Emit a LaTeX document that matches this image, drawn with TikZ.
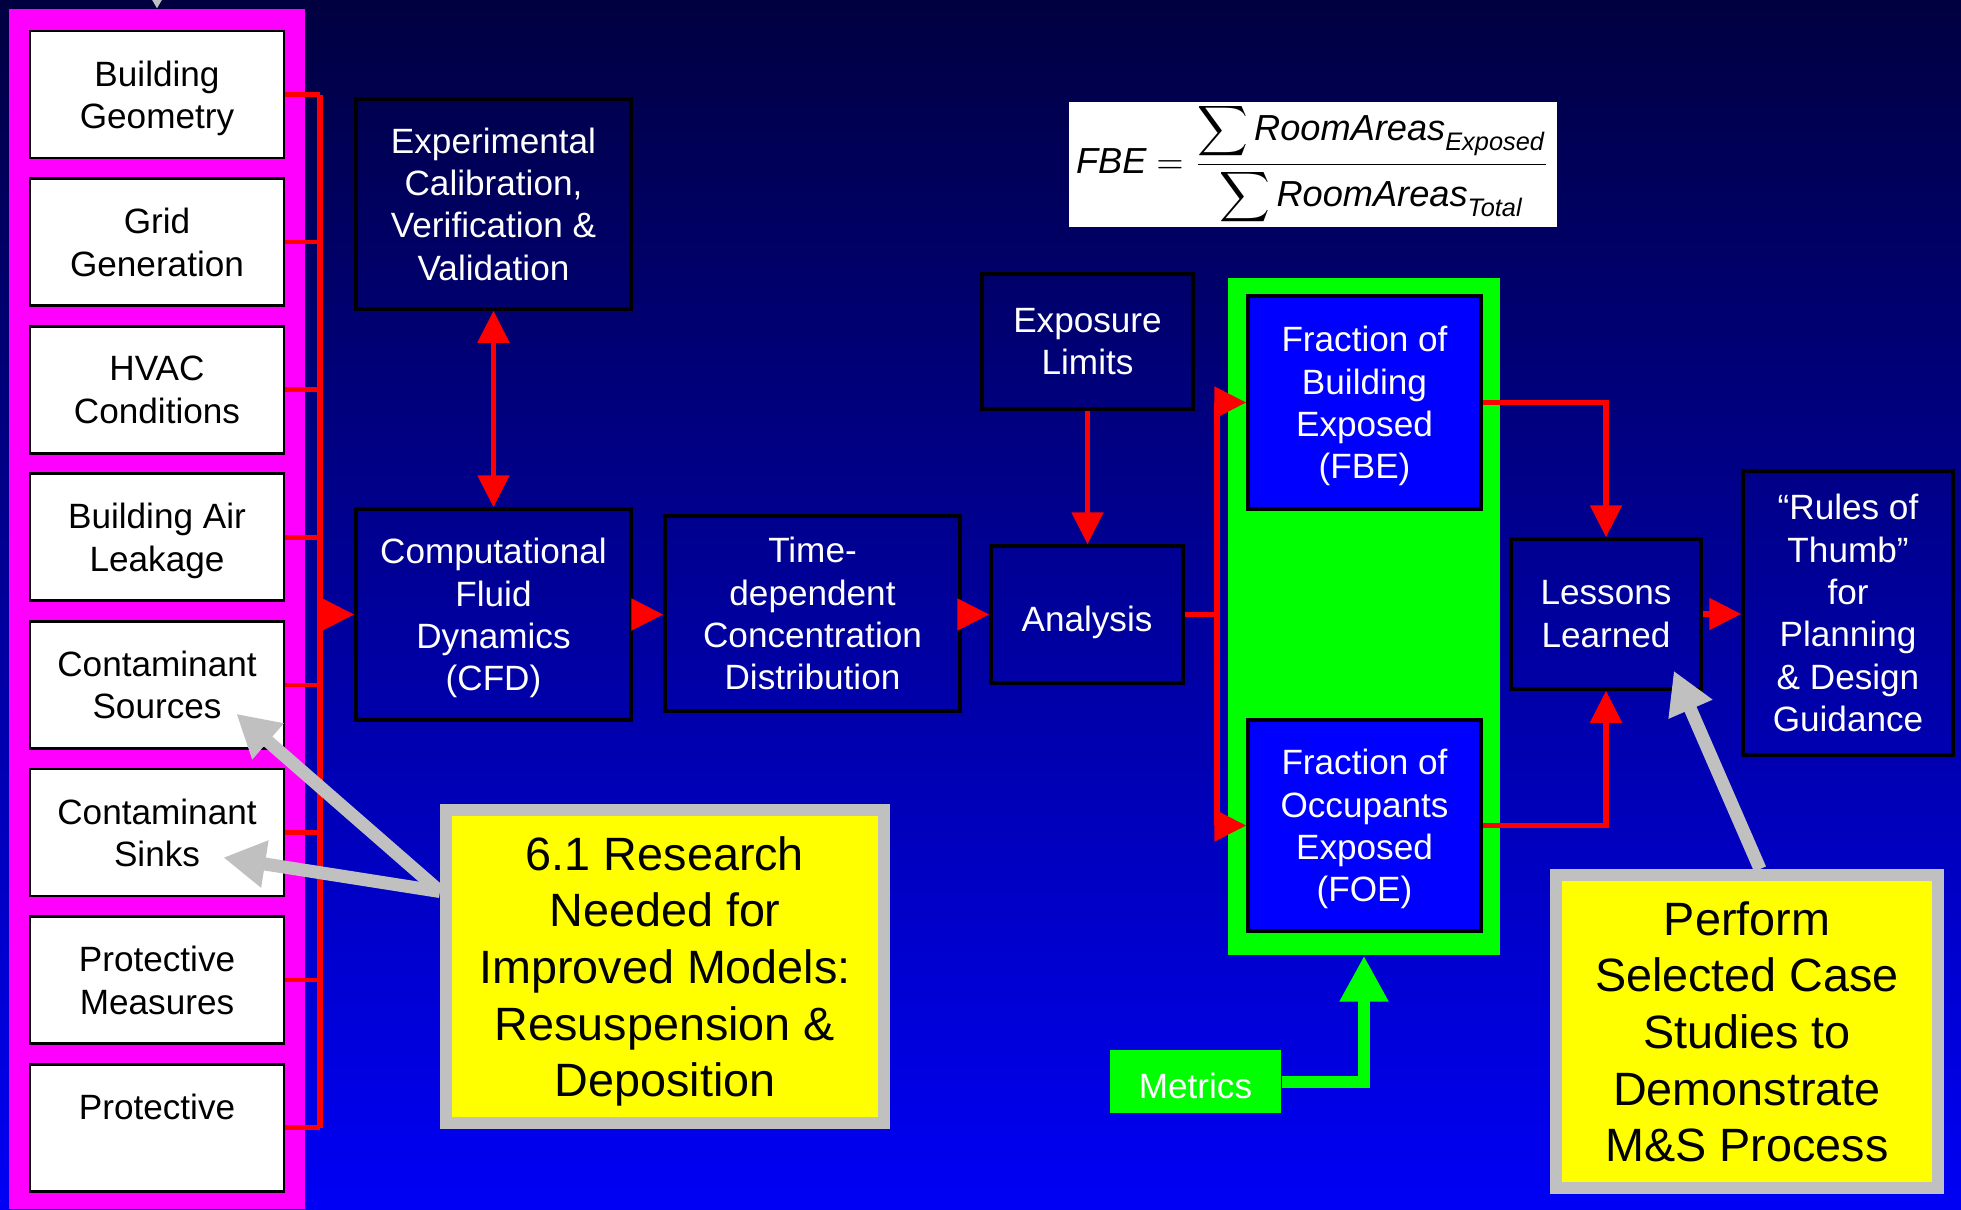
\documentclass[tikz,border=0pt]{standalone}
\usepackage{amsmath}
\usepackage{fontspec}
\setmainfont{Liberation Sans}
\usetikzlibrary{arrows.meta}
\definecolor{bgtop}{RGB}{0,0,64}
\definecolor{bgbot}{RGB}{0,0,245}
\definecolor{lgray}{RGB}{192,192,192}
\definecolor{pmag}{RGB}{255,0,255}
\definecolor{pgreen}{RGB}{0,255,0}
\definecolor{pyellow}{RGB}{255,255,0}
\definecolor{pred}{RGB}{255,0,0}
\definecolor{pblue}{RGB}{0,0,255}

\begin{document}
\begin{tikzpicture}[
    inbox/.style={draw=black,line width=0.8pt,fill=white,minimum width=2.54cm,minimum height=1.27cm,inner sep=0pt,align=center,font=\fontsize{10}{12.05}\selectfont,execute at begin node={\rule{0pt}{9.5pt}},text depth=-0.6pt},
    flowbox/.style={draw=black,line width=1pt,text=white,align=center,inner sep=0pt,font=\fontsize{10}{12.05}\selectfont,execute at begin node={\rule{0pt}{9.5pt}},text depth=-0.6pt},
    notebox/.style={draw=lgray,line width=1.2mm,fill=pyellow,align=center,inner sep=0pt,font=\fontsize{13.3}{16.1}\selectfont,text depth=0pt},
    redarr/.style={draw=pred,line width=0.53mm,-{Triangle[length=3.2mm,width=3.1mm]}},
    redline/.style={draw=pred,line width=0.45mm},
    grayarr/.style={draw=lgray,line width=1.3mm,-{Triangle[length=4.2mm,width=4.5mm]}},
    greenarr/.style={draw=pgreen,line width=1.2mm,-{Triangle[length=4.6mm,width=4.6mm]}}]
    \shade[top color=bgtop,bottom color=bgbot](0,0)rectangle(19.61,-12.09);
    \useasboundingbox(0,0)rectangle(19.61,-12.09);
    \fill[pmag](0.09,-0.09)rectangle(3.05,-12.09);
    \foreach \txt [count=\i] in {{Building\\Geometry},{Grid\\Generation},{HVAC\\Conditions},{Building Air\\Leakage},{Contaminant\\Sources},{Contaminant\\Sinks},{Protective\\Measures},{Protective\\~}}
        \node[inbox](in\i)at(1.57,{-0.945-1.476*(\i-1)}){\txt};
    \coordinate(bustop)at(3.20,-0.945);
    \coordinate(busbot)at(3.20,-11.28);
    \coordinate(ptop)at(1.57,-0.09);
    \coordinate(offtop)at(1.57,0.8);
    \node[flowbox,minimum width=2.75cm,minimum height=2.10cm](exp)at(4.935,-2.04){Experimental\\Calibration,\\Verification \&\\Validation};
    \node[flowbox,minimum width=2.75cm,minimum height=2.11cm](cfd)at(4.935,-6.145){Computational\\Fluid\\Dynamics\\(CFD)};
    \node[flowbox,minimum width=2.95cm,minimum height=1.95cm](tdc)at(8.125,-6.135){Time-\\dependent\\Concentration\\Distribution};
    \node[flowbox,minimum width=1.92cm,minimum height=1.37cm](ana)at(10.87,-6.145){Analysis};
    \node[flowbox,minimum width=2.11cm,minimum height=1.35cm](expo)at(10.875,-3.415){Exposure\\Limits};
    \node[fill=white,inner sep=0pt,minimum width=4.88cm,minimum height=1.25cm,font=\fontsize{10.3}{12}\selectfont](eq)at(13.13,-1.645){$\textit{FBE}=\dfrac{\displaystyle\sum\textit{RoomAreas}_{\raisebox{-1.5pt}{$\scriptstyle\textit{Exposed}$}}}{\displaystyle\sum\textit{RoomAreas}_{\raisebox{-1.5pt}{$\scriptstyle\textit{Total}$}}}$};
    \node[fill=pgreen,inner sep=0pt,minimum width=2.72cm,minimum height=6.77cm](grn)at(13.64,-6.165){};
    \node[flowbox,fill=pblue,minimum width=2.33cm,minimum height=2.13cm](fbe)at(13.645,-4.025){Fraction of\\Building\\Exposed\\(FBE)};
    \node[flowbox,fill=pblue,minimum width=2.33cm,minimum height=2.11cm](foe)at(13.645,-8.255){Fraction of\\Occupants\\Exposed\\(FOE)};
    \node[flowbox,minimum width=1.90cm,minimum height=1.50cm](les)at(16.06,-6.14){Lessons\\Learned};
    \node[flowbox,minimum width=2.10cm,minimum height=2.84cm](rot)at(18.48,-6.13){“Rules of\\Thumb”\\for\\Planning\\\& Design\\Guidance};
    \node[fill=pgreen,text=white,inner sep=0pt,minimum width=1.71cm,minimum height=0.63cm,font=\fontsize{10}{12}\selectfont,execute at begin node={\rule{0pt}{9.5pt}}](met)at(11.955,-10.815){Metrics};
    \node[notebox,minimum width=4.38cm,minimum height=3.13cm](res)at(6.65,-9.665){6.1 Research\\Needed for\\Improved Models:\\Resuspension \&\\Deposition};
    \node[notebox,minimum width=3.82cm,minimum height=3.13cm](cs)at(17.47,-10.315){Perform\\Selected Case\\Studies to\\Demonstrate\\M\&S Process};
    \coordinate(split)at(12.17,-6.145);
    \draw[pred,line width=0.6mm](bustop)--(busbot);
    \foreach \i in {1,...,8}
        \draw[redline](in\i.east)--(in\i.east-|bustop);
    \draw[redarr](cfd.west-|bustop)--(cfd.west);
    \draw[redarr,{Triangle[length=3.2mm,width=3.1mm]}-{Triangle[length=3.2mm,width=3.1mm]}](exp.south)--(cfd.north);
    \draw[redarr](cfd.east)--(cfd.east-|tdc.west);
    \draw[redarr](ana.west-|tdc.east)--(ana.west);
    \draw[redarr](expo.south)--(expo.south|-ana.north);
    \draw[redline](ana.east)--(split);
    \draw[redarr](split)|-(fbe.west);
    \draw[redarr](split)|-(foe.west);
    \draw[redarr](fbe.east)-|(les.north);
    \draw[redarr](foe.east)-|(les.south);
    \draw[redarr](les.east)--(les.east-|rot.west);
    \draw[greenarr](met.east)-|(grn.south);
    \draw[grayarr]([yshift=7.5mm]res.west)--([shift={(-4.9mm,3.6mm)}]in5.south east);
    \draw[grayarr]([yshift=7.5mm]res.west)--([shift={(-6.2mm,-2.5mm)}]in6.east);
    \draw[grayarr]([xshift=1.3mm]cs.north)--([shift={(-2.9mm,2mm)}]les.south east);
    \draw[grayarr](offtop)--(ptop);
\end{tikzpicture}
\end{document}
